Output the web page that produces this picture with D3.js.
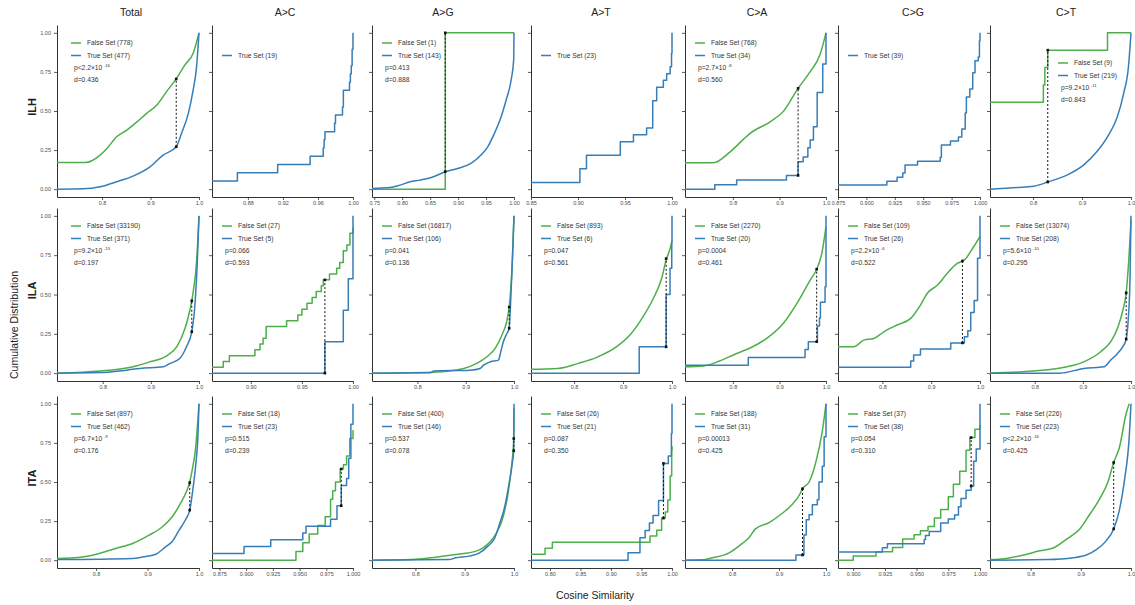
<!DOCTYPE html>
<html><head><meta charset="utf-8">
<script src="https://cdn.jsdelivr.net/npm/d3@7"></script>
<style>
body{margin:0;background:#fff}
svg{display:block}
text{font-family:"Liberation Sans",Arial,sans-serif}
</style>
</head><body><svg id="c" width="1135" height="605"></svg>
<script>
// ---------------- DATA ----------------
const rowNames = ["ILH","ILA","ITA"];
const colNames = ["Total","A>C","A>G","A>T","C>A","C>G","C>T"];
const colKeys  = ["Total","AC","AG","AT","CA","CG","CT"];
const yTickValues = [0,0.25,0.5,0.75,1];
const yTickLabels = ["0.00","0.25","0.50","0.75","1.00"];

// x-axis lower limits, tick values and decimals per row
const xMinILH = [0.707,0.839,0.746,0.85,0.697,0.875,0.712];
const xMinILA = [0.705,0.862,0.706,0.712,0.697,0.709,0.707];
const xMinITA = [0.724,0.868,0.712,0.769,0.70,0.888,0.719];
const xTicksILH = [[0.8,0.9,1.0],[0.88,0.92,0.96,1.00],[0.75,0.80,0.85,0.90,0.95,1.00],[0.85,0.90,0.95,1.00],[0.8,0.9,1.0],[0.875,0.900,0.925,0.950,0.975,1.000],[0.8,0.9,1.0]];
const xTicksILA = [[0.8,0.9,1.0],[0.90,0.95,1.00],[0.8,0.9,1.0],[0.8,0.9,1.0],[0.8,0.9,1.0],[0.8,0.9,1.0],[0.8,0.9,1.0]];
const xTicksITA = [[0.8,0.9,1.0],[0.875,0.900,0.925,0.950,0.975,1.000],[0.8,0.9,1.0],[0.80,0.85,0.90,0.95,1.00],[0.8,0.9,1.0],[0.900,0.925,0.950,0.975,1.000],[0.8,0.9,1.0]];
const xDecILH = [1,2,2,2,1,3,1];
const xDecILA = [1,2,1,1,1,1,1];
const xDecITA = [1,3,1,2,1,3,1];

// set sizes (null = series absent)
const nFalseILH = [778,null,1,null,768,null,9];
const nTrueILH  = [477,19,143,23,34,39,219];
const nFalseILA = [33190,27,16817,893,2270,109,13074];
const nTrueILA  = [371,5,106,6,20,26,208];
const nFalseITA = [897,18,400,26,188,37,226];
const nTrueITA  = [462,23,146,21,31,38,223];

// p values [text, exponent] and KS distance
const pILH = [["p<2.2×10","-16"],null,["p=0.413",null],null,["p=2.7×10","-8"],null,["p=9.2×10","-11"]];
const dILH = ["d=0.436",null,"d=0.888",null,"d=0.560",null,"d=0.843"];
const pILA = [["p=9.2×10","-13"],["p=0.066",null],["p=0.041",null],["p=0.047",null],["p=0.0004",null],["p=2.2×10","-6"],["p=5.6×10","-10"]];
const dILA = ["d=0.197","d=0.593","d=0.136","d=0.561","d=0.461","d=0.522","d=0.295"];
const pITA = [["p=6.7×10","-9"],["p=0.515",null],["p=0.537",null],["p=0.087",null],["p=0.00013",null],["p=0.054",null],["p<2.2×10","-16"]];
const dITA = ["d=0.176","d=0.239","d=0.078","d=0.350","d=0.425","d=0.310","d=0.425"];

// KS segment: [x, F low, F high]
const ksILH = [[0.953,0.271,0.705],null,[0.877,0.112,1.0],null,[0.940,0.088,0.645],null,[0.830,0.046,0.889]];
const ksILA = [[0.985,0.263,0.46],[0.9725,0,0.593],[0.990,0.285,0.42],[0.988,0.167,0.728],[0.980,0.2,0.661],[0.964,0.192,0.713],[0.990,0.216,0.511]];
const ksITA = [[0.982,0.32,0.496],[0.989,0.348,0.583],[0.9995,0.70,0.778],[0.986,0.269,0.619],[0.950,0.033,0.457],[0.993,0.474,0.784],[0.9655,0.2,0.625]];

// ECDF curves [cosine similarity, cumulative fraction]
const ILH_Total_F = [[0.707,0.17],[0.765,0.17],[0.796,0.218],[0.810,0.26],[0.830,0.335],[0.851,0.378],[0.872,0.43],[0.892,0.485],[0.913,0.538],[0.933,0.624],[0.953,0.705],[0.971,0.795],[0.988,0.87],[1.0,1.0]];
const ILH_Total_T = [[0.707,0],[0.761,0.002],[0.796,0.015],[0.830,0.047],[0.865,0.085],[0.899,0.143],[0.926,0.218],[0.953,0.271],[0.964,0.357],[0.978,0.485],[0.988,0.635],[0.995,0.784],[1.0,1.0]];
const ILH_AC_T = [[0.839,0.053],[0.868,0.105],[0.914,0.158],[0.951,0.211],[0.966,0.263],[0.967,0.316],[0.968,0.368],[0.979,0.421],[0.980,0.474],[0.988,0.526],[0.989,0.632],[0.996,0.684],[0.997,0.737],[0.998,0.789],[0.999,0.895],[1.0,1.0]];
const ILH_AG_F = [[0.746,0],[0.877,1],[1.0,1]];
const ILH_AG_T = [[0.746,0.004],[0.778,0.01],[0.796,0.026],[0.814,0.047],[0.832,0.058],[0.856,0.079],[0.877,0.112],[0.899,0.132],[0.923,0.165],[0.941,0.218],[0.953,0.271],[0.965,0.357],[0.977,0.463],[0.986,0.57],[0.995,0.70],[0.9995,0.83],[1.0,1.0]];
const ILH_AT_T = [[0.85,0.043],[0.902,0.130],[0.909,0.217],[0.945,0.304],[0.959,0.348],[0.973,0.391],[0.9795,0.565],[0.9837,0.652],[0.9908,0.696],[0.9943,0.739],[0.998,0.783],[0.9995,0.870],[1.0,1.0]];
const ILH_CA_F = [[0.697,0.169],[0.758,0.169],[0.794,0.239],[0.823,0.32],[0.837,0.357],[0.880,0.431],[0.908,0.496],[0.940,0.645],[0.966,0.752],[0.987,0.859],[1.0,1.0]];
const ILH_CA_T = [[0.697,0],[0.761,0.029],[0.808,0.059],[0.915,0.088],[0.940,0.176],[0.951,0.206],[0.961,0.265],[0.966,0.314],[0.973,0.40],[0.981,0.618],[0.993,0.80],[1.0,1.0]];
const ILH_CG_T = [[0.875,0.026],[0.918,0.051],[0.927,0.077],[0.932,0.103],[0.934,0.154],[0.945,0.179],[0.965,0.205],[0.966,0.282],[0.974,0.308],[0.981,0.333],[0.984,0.385],[0.987,0.487],[0.988,0.590],[0.991,0.641],[0.9936,0.744],[0.9956,0.821],[0.9985,0.846],[0.9995,0.949],[1.0,1.0]];
const ILH_CT_F = [[0.712,0.556],[0.821,0.667],[0.824,0.778],[0.830,0.889],[0.952,1.0],[1.0,1.0]];
const ILH_CT_T = [[0.712,0],[0.767,0.011],[0.801,0.019],[0.831,0.047],[0.869,0.09],[0.903,0.154],[0.930,0.239],[0.954,0.346],[0.971,0.453],[0.985,0.613],[0.995,0.79],[0.998,0.91],[1.0,1.0]];

const ILA_Total_F = [[0.705,0],[0.794,0.013],[0.863,0.04],[0.898,0.072],[0.933,0.11],[0.954,0.168],[0.971,0.285],[0.981,0.40],[0.985,0.46],[0.988,0.518],[0.995,0.709],[1.0,1.0]];
const ILA_Total_T = [[0.705,0],[0.794,0.004],[0.849,0.019],[0.877,0.03],[0.926,0.04],[0.940,0.062],[0.960,0.093],[0.974,0.168],[0.985,0.263],[0.992,0.454],[0.9965,0.709],[1.0,1.0]];
const ILA_AC_F = [[0.862,0.037],[0.873,0.074],[0.879,0.111],[0.904,0.148],[0.909,0.185],[0.912,0.222],[0.915,0.296],[0.935,0.333],[0.946,0.370],[0.950,0.407],[0.955,0.444],[0.960,0.481],[0.964,0.519],[0.969,0.556],[0.971,0.593],[0.977,0.630],[0.984,0.667],[0.987,0.704],[0.9905,0.778],[0.994,0.815],[0.997,0.889],[1.0,0.926]];
const ILA_AC_T = [[0.862,0],[0.9725,0.2],[0.9905,0.4],[0.9954,0.6],[1.0,1.0]];
const ILA_AG_F = [[0.706,0],[0.841,0.008],[0.896,0.03],[0.923,0.062],[0.944,0.104],[0.961,0.157],[0.975,0.242],[0.985,0.33],[0.990,0.42],[0.993,0.52],[0.9965,0.709],[1.0,1.0]];
const ILA_AG_T = [[0.706,0],[0.827,0.002],[0.834,0.013],[0.909,0.019],[0.930,0.03],[0.937,0.051],[0.951,0.072],[0.968,0.083],[0.971,0.115],[0.978,0.2],[0.985,0.25],[0.990,0.285],[0.993,0.45],[0.996,0.667],[1.0,1.0]];
const ILA_AT_F = [[0.712,0.025],[0.767,0.03],[0.808,0.062],[0.846,0.1],[0.887,0.168],[0.914,0.242],[0.941,0.359],[0.962,0.476],[0.979,0.603],[0.988,0.72],[0.996,0.79],[1.0,0.84]];
const ILA_AT_T = [[0.712,0],[0.933,0.167],[0.988,0.5],[0.996,0.667],[0.9995,0.833],[1.0,1.0]];
const ILA_CA_F = [[0.697,0.04],[0.736,0.045],[0.765,0.07],[0.808,0.125],[0.837,0.16],[0.872,0.22],[0.908,0.316],[0.944,0.476],[0.966,0.592],[0.980,0.661],[0.991,0.762],[1.0,0.93]];
const ILA_CA_T = [[0.697,0.05],[0.833,0.1],[0.955,0.15],[0.962,0.2],[0.9815,0.3],[0.986,0.35],[0.988,0.45],[0.998,0.55],[1.0,1.0]];
const ILA_CG_F = [[0.709,0.168],[0.741,0.168],[0.762,0.21],[0.782,0.22],[0.803,0.263],[0.830,0.306],[0.858,0.348],[0.878,0.433],[0.892,0.508],[0.913,0.56],[0.933,0.635],[0.954,0.699],[0.964,0.713],[0.968,0.72],[0.985,0.794],[1.0,0.87]];
const ILA_CG_T = [[0.709,0.038],[0.858,0.077],[0.864,0.115],[0.878,0.154],[0.940,0.192],[0.968,0.231],[0.975,0.269],[0.981,0.385],[0.988,0.462],[0.995,0.731],[1.0,1.0]];
const ILA_CT_F = [[0.707,0],[0.796,0.013],[0.867,0.04],[0.902,0.072],[0.937,0.136],[0.958,0.2],[0.972,0.285],[0.983,0.40],[0.990,0.511],[0.996,0.75],[1.0,0.97]];
const ILA_CT_T = [[0.707,0],[0.853,0],[0.902,0.03],[0.944,0.04],[0.958,0.083],[0.972,0.125],[0.983,0.168],[0.990,0.216],[0.994,0.33],[0.998,0.6],[1.0,1.0]];

const ITA_Total_F = [[0.724,0.011],[0.773,0.021],[0.806,0.043],[0.838,0.075],[0.871,0.107],[0.903,0.16],[0.929,0.214],[0.948,0.278],[0.964,0.363],[0.977,0.45],[0.982,0.50],[0.987,0.58],[0.9935,0.72],[1.0,1.0]];
const ITA_Total_T = [[0.724,0.004],[0.871,0.011],[0.890,0.02],[0.916,0.038],[0.935,0.085],[0.948,0.12],[0.961,0.19],[0.974,0.26],[0.982,0.32],[0.988,0.45],[0.994,0.62],[0.998,0.8],[1.0,1.0]];
const ITA_AC_F = [[0.868,0],[0.9466,0.056],[0.953,0.111],[0.959,0.167],[0.967,0.222],[0.974,0.278],[0.979,0.389],[0.981,0.444],[0.9836,0.5],[0.988,0.583],[0.991,0.611],[0.994,0.667],[0.997,0.778],[1.0,0.833]];
const ITA_AC_T = [[0.868,0.043],[0.898,0.087],[0.923,0.130],[0.953,0.174],[0.956,0.217],[0.979,0.261],[0.985,0.348],[0.989,0.478],[0.994,0.522],[0.996,0.652],[0.998,0.870],[1.0,1.0]];
const ITA_AG_F = [[0.712,0],[0.792,0.004],[0.841,0.019],[0.882,0.036],[0.923,0.058],[0.951,0.117],[0.964,0.171],[0.978,0.278],[0.988,0.427],[0.995,0.60],[0.9995,0.78],[1.0,0.97]];
const ITA_AG_T = [[0.712,0],[0.868,0.004],[0.882,0.015],[0.909,0.026],[0.930,0.047],[0.947,0.09],[0.961,0.143],[0.971,0.235],[0.981,0.34],[0.990,0.49],[0.997,0.63],[0.9995,0.70],[1.0,1.0]];
const ITA_AT_F = [[0.769,0.038],[0.792,0.077],[0.804,0.115],[0.964,0.154],[0.975,0.192],[0.983,0.269],[0.989,0.308],[0.993,0.385],[0.997,0.538],[0.9995,0.70],[1.0,0.73]];
const ITA_AT_T = [[0.769,0],[0.928,0.048],[0.9475,0.143],[0.956,0.190],[0.963,0.238],[0.969,0.286],[0.978,0.381],[0.986,0.619],[0.994,0.667],[0.999,0.81],[1.0,1.0]];
const ITA_CA_F = [[0.70,0],[0.737,0.002],[0.758,0.015],[0.794,0.047],[0.822,0.107],[0.836,0.144],[0.85,0.2],[0.879,0.24],[0.907,0.3],[0.928,0.356],[0.944,0.42],[0.950,0.457],[0.964,0.5],[0.978,0.622],[0.992,0.822],[1.0,1.0]];
const ITA_CA_T = [[0.70,0],[0.936,0.033],[0.953,0.161],[0.958,0.258],[0.964,0.290],[0.971,0.355],[0.9815,0.387],[0.985,0.5],[0.992,0.6],[0.996,0.79],[1.0,1.0]];
const ITA_CG_F = [[0.888,0],[0.900,0.027],[0.918,0.054],[0.931,0.081],[0.939,0.135],[0.948,0.162],[0.953,0.189],[0.959,0.216],[0.964,0.270],[0.969,0.324],[0.975,0.405],[0.979,0.486],[0.984,0.568],[0.989,0.703],[0.992,0.784],[0.996,0.838],[1.0,0.865]];
const ITA_CG_T = [[0.888,0.053],[0.923,0.079],[0.927,0.105],[0.956,0.132],[0.957,0.158],[0.960,0.184],[0.969,0.237],[0.975,0.263],[0.980,0.289],[0.983,0.342],[0.985,0.395],[0.989,0.447],[0.993,0.474],[0.995,0.632],[0.997,0.711],[1.0,1.0]];
const ITA_CT_F = [[0.719,0.004],[0.752,0.011],[0.786,0.033],[0.818,0.06],[0.845,0.078],[0.871,0.133],[0.898,0.2],[0.917,0.289],[0.937,0.389],[0.954,0.5],[0.9655,0.625],[0.977,0.722],[0.990,0.933],[0.9965,1.0]];
const ITA_CT_T = [[0.719,0],[0.832,0.004],[0.885,0.016],[0.911,0.033],[0.931,0.067],[0.950,0.122],[0.9655,0.2],[0.977,0.322],[0.987,0.511],[0.9967,0.8],[1.0,1.0]];

// lookup table built from the named arrays
const curves = {ILH_Total_F,ILH_Total_T,ILH_AC_T,ILH_AG_F,ILH_AG_T,ILH_AT_T,ILH_CA_F,ILH_CA_T,ILH_CG_T,ILH_CT_F,ILH_CT_T,
  ILA_Total_F,ILA_Total_T,ILA_AC_F,ILA_AC_T,ILA_AG_F,ILA_AG_T,ILA_AT_F,ILA_AT_T,ILA_CA_F,ILA_CA_T,ILA_CG_F,ILA_CG_T,ILA_CT_F,ILA_CT_T,
  ITA_Total_F,ITA_Total_T,ITA_AC_F,ITA_AC_T,ITA_AG_F,ITA_AG_T,ITA_AT_F,ITA_AT_T,ITA_CA_F,ITA_CA_T,ITA_CG_F,ITA_CG_T,ITA_CT_F,ITA_CT_T};
const rowMeta = [
  {xMin:xMinILH,ticks:xTicksILH,dec:xDecILH,nF:nFalseILH,nT:nTrueILH,p:pILH,d:dILH,ks:ksILH},
  {xMin:xMinILA,ticks:xTicksILA,dec:xDecILA,nF:nFalseILA,nT:nTrueILA,p:pILA,d:dILA,ks:ksILA},
  {xMin:xMinITA,ticks:xTicksITA,dec:xDecITA,nF:nFalseITA,nT:nTrueITA,p:pITA,d:dITA,ks:ksITA}
];

// ---------------- LAYOUT ----------------
const colLeft  = [57,212,372,531,685,838,990];
const colRight = [199,353,514,672,826,980,1131];
const rowTop    = [25,208,396];
const rowBottom = [197,381,568];
const titleX = [131,285,443,601,757,913,1066];
const green = "#4DAF4A", blue = "#377EB8";
const axisCol = "#333", tickTextCol = "#4d4d4d", textCol = "#333";

const svg = d3.select("#c");
const defs = svg.append("defs");

rowNames.forEach((rn, r) => {
  const M = rowMeta[r];
  colKeys.forEach((ck, c) => {
    const L = colLeft[c], R = colRight[c], T = rowTop[r], B = rowBottom[r];
    const x = d3.scaleLinear().domain([M.xMin[c], 1]).range([L, R]);
    const y = d3.scaleLinear().domain([-0.05, 1.05]).range([B, T]);
    const g = svg.append("g");

    // axes
    const xa = g.append("g").attr("transform", `translate(0,${B})`)
      .call(d3.axisBottom(x).tickValues(M.ticks[c]).tickFormat(d3.format(`.${M.dec[c]}f`)).tickSize(3).tickSizeOuter(0).tickPadding(1));
    const ya = g.append("g").attr("transform", `translate(${L},0)`)
      .call(d3.axisLeft(y).tickValues(yTickValues).tickFormat((v,i)=> c===0 ? yTickLabels[i] : "").tickSize(3).tickSizeOuter(0).tickPadding(3));
    [xa, ya].forEach(a => {
      a.select(".domain").attr("stroke", axisCol).attr("stroke-width", 1);
      a.selectAll(".tick line").attr("stroke", axisCol).attr("stroke-width", 0.8);
      a.selectAll(".tick text").attr("fill", tickTextCol).style("font-size", "5.5px").style("font-family", '"Liberation Sans",Arial,sans-serif');
    });

    // clip
    const cid = `clip${r}_${c}`;
    defs.append("clipPath").attr("id", cid).append("rect")
      .attr("x", L).attr("y", T - 2).attr("width", R - L + 2).attr("height", B - T + 2);
    const pg = g.append("g").attr("clip-path", `url(#${cid})`);

    const drawCurve = (pts, n, col) => {
      if (!pts) return;
      const line = d3.line().x(d => x(d[0])).y(d => y(d[1]))
        .curve(n < 60 ? d3.curveStepAfter : d3.curveMonotoneX);
      pg.append("path").datum(pts).attr("d", line)
        .attr("fill", "none").attr("stroke", col).attr("stroke-width", 1.5)
        .attr("stroke-linejoin", "round");
    };
    drawCurve(curves[`${rn}_${ck}_F`], M.nF[c], green);
    drawCurve(curves[`${rn}_${ck}_T`], M.nT[c], blue);

    // KS segment
    const ks = M.ks[c];
    if (ks) {
      g.append("line").attr("x1", x(ks[0])).attr("x2", x(ks[0]))
        .attr("y1", y(ks[1])).attr("y2", y(ks[2]))
        .attr("stroke", "#111").attr("stroke-width", 1).attr("stroke-dasharray", "2,2");
      [ks[1], ks[2]].forEach(v => g.append("rect")
        .attr("x", x(ks[0]) - 1.3).attr("y", y(v) - 1.3).attr("width", 2.6).attr("height", 2.6).attr("fill", "#111"));
    }

    // legend
    const special = (r === 0 && c === 6);
    const lx = L + (special ? 68 : (c === 0 ? 14 : 10));
    const ly = T + (special ? 38 : 18);
    const fs = 6.7;
    const item = (k, col, label) => {
      const yy = ly + k * 12.5;
      g.append("line").attr("x1", lx).attr("x2", lx + 10).attr("y1", yy).attr("y2", yy)
        .attr("stroke", col).attr("stroke-width", 1.5);
      g.append("text").attr("x", lx + 16).attr("y", yy + 2.3).attr("fill", textCol)
        .style("font-size", fs + "px").text(label);
    };
    if (M.nF[c] !== null) item(0, green, `False Set (${M.nF[c]})`);
    item(1, blue, `True Set (${M.nT[c]})`);
    if (M.p[c]) {
      const t = g.append("text").attr("x", lx + 3).attr("y", ly + 25 + 2.3).attr("fill", textCol).style("font-size", fs + "px");
      t.append("tspan").text(M.p[c][0]);
      if (M.p[c][1]) t.append("tspan").attr("dx", 1.5).attr("dy", -3).style("font-size", "4.3px").text(M.p[c][1]);
      g.append("text").attr("x", lx + 3).attr("y", ly + 37 + 2.3).attr("fill", textCol)
        .style("font-size", fs + "px").text(M.d[c]);
    }
  });

  // row label
  svg.append("text").attr("transform", `translate(36,${(rowTop[r] + rowBottom[r]) / 2 - 4}) rotate(-90)`)
    .attr("text-anchor", "middle").attr("fill", "#222").style("font-size", "11px").style("font-weight", "bold").text(rn);
});

// column titles
colNames.forEach((cn, c) => {
  svg.append("text").attr("x", titleX[c]).attr("y", 16).attr("text-anchor", "middle")
    .attr("fill", "#222").style("font-size", "10.5px").text(cn);
});

// axis titles
svg.append("text").attr("transform", "translate(18,325) rotate(-90)").attr("text-anchor", "middle")
  .attr("fill", "#222").style("font-size", "10.5px").text("Cumulative Distribution");
svg.append("text").attr("x", 595).attr("y", 599).attr("text-anchor", "middle")
  .attr("fill", "#222").style("font-size", "10.5px").text("Cosine Similarity");
</script>
</body></html>
